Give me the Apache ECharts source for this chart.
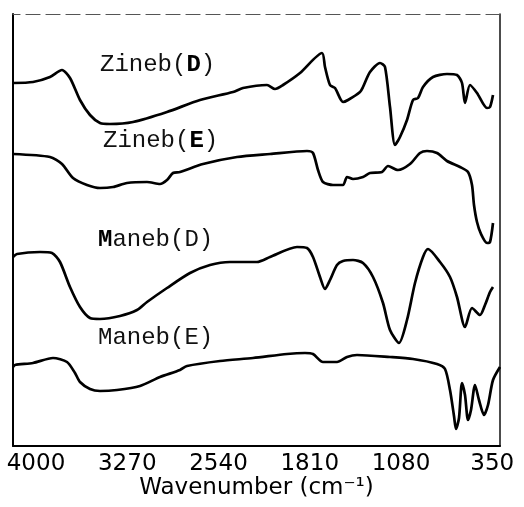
<!DOCTYPE html>
<html>
<head>
<meta charset="utf-8">
<script src="https://cdn.jsdelivr.net/npm/echarts@6/dist/echarts.min.js"></script>
<style>
  html, body { margin: 0; padding: 0; background: #fff; }
  #chart { width: 524px; height: 507px; }
</style>
</head>
<body>
<div id="chart"></div>
<script>
// wavenumber ticks (cm-1), axis runs high -> low
const tickValues = [4000, 3270, 2540, 1810, 1080, 350];

// spectra, [wavenumber, offset transmittance]
const zinebD = [
  [4184, 363], [4024, 364], [3888, 369], [3792, 376], [3728, 368], [3648, 346],
  [3568, 331], [3488, 323], [3408, 322], [3224, 324], [2952, 334], [2688, 346],
  [2424, 354], [2344, 358], [2152, 361], [2088, 357], [2024, 361], [1888, 373],
  [1712, 393], [1688, 379], [1648, 361], [1608, 358], [1544, 344], [1504, 346],
  [1408, 354], [1384, 359], [1328, 374], [1248, 383], [1208, 379], [1168, 339],
  [1128, 301], [1088, 309], [1032, 326], [984, 346], [944, 348], [904, 359],
  [824, 369], [712, 372], [632, 371], [592, 363], [568, 343], [528, 361],
  [472, 353], [392, 338], [368, 339], [344, 351]
];
const zinebE = [
  [4184, 292], [3888, 289], [3792, 282], [3704, 268], [3592, 261], [3488, 258],
  [3384, 259], [3272, 263], [3112, 264], [3008, 262], [2952, 266], [2904, 273],
  [2848, 274], [2664, 282], [2392, 289], [2128, 292], [1832, 295], [1784, 293],
  [1744, 276], [1704, 264], [1624, 261], [1544, 261], [1512, 269], [1464, 267],
  [1384, 269], [1328, 273], [1232, 274], [1184, 280], [1104, 276], [1008, 282],
  [928, 293], [872, 295], [792, 293], [712, 285], [608, 279], [544, 274],
  [512, 261], [496, 241], [472, 224], [440, 212], [392, 203], [368, 204], [344, 223]
];
const manebD = [
  [4184, 189], [4152, 192], [3968, 194], [3872, 193], [3808, 184], [3728, 159],
  [3648, 139], [3568, 128], [3488, 127], [3328, 130], [3192, 136], [3112, 144],
  [2952, 158], [2768, 173], [2608, 181], [2448, 184], [2232, 184], [2128, 189],
  [1912, 199], [1832, 198], [1784, 189], [1728, 169], [1688, 157], [1648, 166],
  [1592, 181], [1544, 185], [1464, 186], [1384, 183], [1304, 169], [1224, 143],
  [1168, 116], [1096, 103], [1032, 126], [968, 163], [904, 189], [864, 197],
  [768, 184], [688, 169], [632, 149], [568, 119], [512, 138], [448, 131],
  [408, 141], [368, 154], [344, 159]
];
const manebE = [
  [4184, 79], [4168, 81], [4024, 83], [3864, 88], [3752, 84], [3688, 73],
  [3648, 64], [3568, 57], [3488, 55], [3352, 56], [3168, 60], [3008, 69],
  [2848, 76], [2792, 80], [2528, 85], [2264, 88], [1992, 92], [1848, 93],
  [1784, 92], [1704, 84], [1592, 84], [1512, 89], [1432, 91], [1168, 89],
  [984, 87], [792, 82], [728, 77], [688, 56], [656, 30], [640, 17], [616, 28],
  [592, 63], [568, 51], [544, 26], [520, 36], [488, 61], [456, 46], [416, 31],
  [384, 41], [344, 66], [288, 79]
];

const labels = [
  { parts: ['Zineb(', '{b|D}', ')'], x: 100, y: 65 },
  { parts: ['Zineb(', '{b|E}', ')'], x: 103, y: 141 },
  { parts: ['{b|M}', 'aneb(D)'], x: 98, y: 240 },
  { parts: ['Maneb(E)'], x: 98, y: 338 }
];

const chart = echarts.init(document.getElementById('chart'), null, { renderer: 'canvas' });

function spectrum(data) {
  return {
    type: 'line',
    data: data,
    showSymbol: false,
    smooth: 0.25,
    lineStyle: { color: '#000', width: 2.7 },
    silent: true
  };
}

const monoFont = 'Liberation Mono, DejaVu Sans Mono, monospace';

const option = {
  animation: false,
  backgroundColor: '#fff',
  grid: { left: 13, right: 24, top: 14, bottom: 61 },
  xAxis: [
    {
      type: 'value',
      inverse: true,
      min: 288,
      max: 4184,
      position: 'bottom',
      axisLine: { onZero: false, lineStyle: { color: '#000', width: 2 } },
      axisTick: { show: false },
      splitLine: { show: false },
      axisLabel: {
        customValues: tickValues,
        formatter: function (v) { return String(v); },
        color: '#000',
        fontFamily: 'DejaVu Sans',
        fontSize: 23,
        margin: 7
      },
      name: 'Wavenumber (cm⁻¹)',
      nameLocation: 'middle',
      nameGap: 31,
      nameMoveOverlap: false,
      nameTextStyle: { color: '#000', fontFamily: 'DejaVu Sans', fontSize: 23 }
    },
    {
      type: 'value',
      inverse: true,
      min: 288,
      max: 4184,
      position: 'top',
      axisLine: { onZero: false, lineStyle: { color: '#555', width: 1.2, type: [14, 6] } },
      axisTick: { show: false },
      axisLabel: { show: false },
      splitLine: { show: false }
    }
  ],
  yAxis: [
    {
      type: 'value', min: 0, max: 432, position: 'left',
      axisLine: { show: true, onZero: false, lineStyle: { color: '#000', width: 2 } },
      axisTick: { show: false }, axisLabel: { show: false }, splitLine: { show: false }
    },
    {
      type: 'value', min: 0, max: 432, position: 'right',
      axisLine: { show: true, onZero: false, lineStyle: { color: '#111', width: 1.5 } },
      axisTick: { show: false }, axisLabel: { show: false }, splitLine: { show: false }
    }
  ],
  series: [spectrum(zinebD), spectrum(zinebE), spectrum(manebD), spectrum(manebE)],
  graphic: labels.map(function (l) {
    return {
      type: 'text',
      x: l.x,
      y: l.y,
      silent: true,
      style: {
        text: l.parts.join(''),
        fill: '#111',
        font: '24px ' + monoFont,
        verticalAlign: 'middle',
        rich: {
          b: { fontWeight: 'bold', fontSize: 24, fontFamily: monoFont, fill: '#000' }
        }
      }
    };
  })
};

chart.setOption(option);
</script>
</body>
</html>
